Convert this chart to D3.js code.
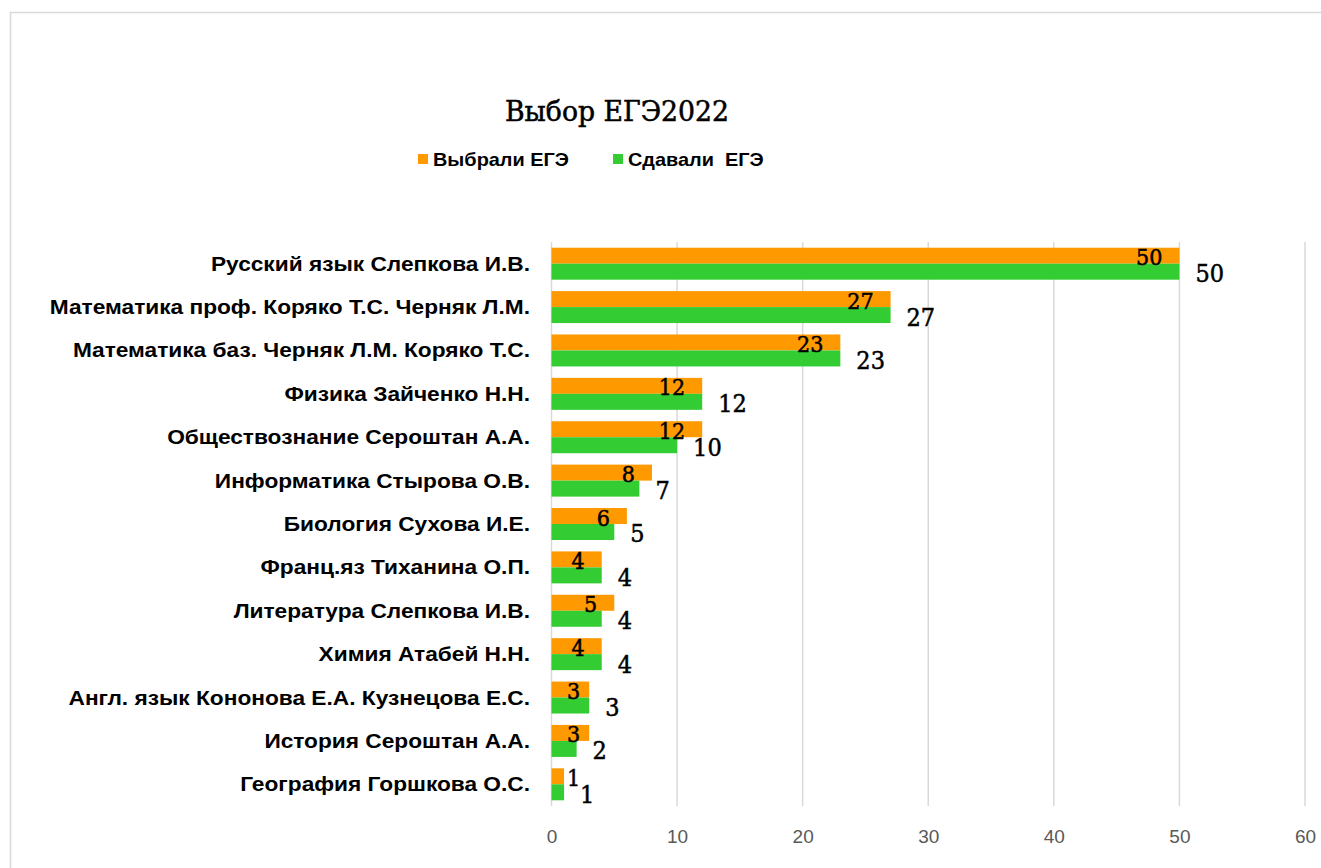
<!DOCTYPE html>
<html>
<head>
<meta charset="utf-8">
<script src="https://cdn.jsdelivr.net/npm/d3@7"></script>
<style>
  html, body { margin: 0; padding: 0; background: #fff; }
  svg { display: block; }
  .serif { font-family: "DejaVu Serif Condensed", "DejaVu Serif", serif; font-stretch: condensed; }
  .sans { font-family: "Liberation Sans", Arial, sans-serif; }
</style>
</head>
<body>
<svg id="chart" width="1321" height="868"></svg>
<script>
const title = "Выбор ЕГЭ2022";
const seriesNames = ["Выбрали ЕГЭ", "Сдавали  ЕГЭ"];
const seriesColors = ["#FF9900", "#33CC33"];
const categories = [
  "Русский язык Слепкова И.В.",
  "Математика проф. Коряко Т.С. Черняк Л.М.",
  "Математика баз. Черняк Л.М. Коряко Т.С.",
  "Физика Зайченко Н.Н.",
  "Обществознание Сероштан А.А.",
  "Информатика Стырова О.В.",
  "Биология Сухова И.Е.",
  "Франц.яз Тиханина О.П.",
  "Литература Слепкова И.В.",
  "Химия Атабей Н.Н.",
  "Англ. язык Кононова Е.А. Кузнецова Е.С.",
  "История Сероштан А.А.",
  "География Горшкова О.С."
];
const chose = [50, 27, 23, 12, 12, 8, 6, 4, 5, 4, 3, 3, 1];
const passed = [50, 27, 23, 12, 10, 7, 5, 4, 4, 4, 3, 2, 1];
const xTicks = [0, 10, 20, 30, 40, 50, 60];

const svg = d3.select("#chart");

// outer border
svg.append("rect").attr("x", 10.5).attr("y", 12.5).attr("width", 1400).attr("height", 1000)
  .attr("fill", "#fff").attr("stroke", "#d9d9d9").attr("stroke-width", 1.5);

const plot = { left: 551.5, right: 1305, top: 242, bottom: 806 };

const x = d3.scaleLinear().domain([0, 60]).range([plot.left, plot.right]);
const y = d3.scaleBand().domain(categories).range([plot.top, plot.bottom])
  .paddingInner(0.263).paddingOuter(0.1315);
const bw = y.bandwidth();

// gridlines
svg.append("g").selectAll("line").data(xTicks).join("line")
  .attr("x1", d => x(d)).attr("x2", d => x(d))
  .attr("y1", plot.top).attr("y2", plot.bottom)
  .attr("stroke", "#d9d9d9").attr("stroke-width", 1.5);

// x axis labels
const xAxis = d3.axisBottom(x).tickValues(xTicks).tickSize(0).tickPadding(0);
const gx = svg.append("g").attr("transform", `translate(0,${plot.bottom + 23})`).call(xAxis);
gx.select(".domain").remove();
gx.selectAll("text").attr("font-size", 19).attr("fill", "#595959")
  .attr("font-family", "Liberation Sans, Arial, sans-serif");

// category labels
svg.append("g").selectAll("text").data(categories).join("text")
  .attr("class", "sans")
  .attr("transform", d => `translate(530,${y(d) + bw / 2 + 7}) scale(1.135,1)`)
  .attr("text-anchor", "end").attr("font-size", 20).attr("font-weight", "bold").attr("fill", "#000")
  .text(d => d);

// bars
const rows = categories.map((c, i) => ({ c, a: chose[i], b: passed[i] }));
svg.append("g").selectAll("rect").data(rows).join("rect")
  .attr("x", x(0)).attr("y", d => y(d.c))
  .attr("width", d => x(d.a) - x(0)).attr("height", bw / 2)
  .attr("fill", seriesColors[0]);
svg.append("g").selectAll("rect").data(rows).join("rect")
  .attr("x", x(0)).attr("y", d => y(d.c) + bw / 2)
  .attr("width", d => x(d.b) - x(0)).attr("height", bw / 2)
  .attr("fill", seriesColors[1]);

// orange value labels (inside end, clamped)
const la = svg.append("g").selectAll("text").data(rows).join("text")
  .attr("class", "serif").attr("font-size", 23).attr("fill", "#000")
  .attr("stroke", "#000").attr("stroke-width", 0.5)
  .attr("y", d => y(d.c) + bw / 4 + 9.5)
  .text(d => d.a);
la.each(function (d) {
  const w = this.getComputedTextLength();
  let left = x(d.a) - 17 - w;
  if (left < 567) left = 567;
  d3.select(this).attr("x", left);
});

// green value labels (outside end)
svg.append("g").selectAll("text").data(rows).join("text")
  .attr("class", "serif").attr("font-size", 25).attr("fill", "#000")
  .attr("stroke", "#000").attr("stroke-width", 0.5)
  .attr("x", d => x(d.b) + 16)
  .attr("y", d => y(d.c) + bw * 3 / 4 + 10.5)
  .text(d => d.b);

// title
svg.append("text").attr("class", "serif")
  .attr("transform", "translate(617,121) scale(1.06,1)")
  .attr("text-anchor", "middle").attr("font-size", 28).attr("fill", "#000")
  .attr("stroke", "#000").attr("stroke-width", 0.5)
  .text(title);

// legend
const legX = [418, 613];
const lg = svg.append("g").selectAll("g").data(seriesNames).join("g")
  .attr("transform", (d, i) => `translate(${legX[i]},0)`);
lg.append("rect").attr("x", 0).attr("y", 154).attr("width", 10).attr("height", 10)
  .attr("fill", (d, i) => seriesColors[i]);
lg.append("text").attr("class", "sans")
  .attr("transform", "translate(15,166) scale(1.07,1)")
  .attr("font-size", 18.6).attr("font-weight", "bold").attr("fill", "#000")
  .style("white-space", "pre").attr("xml:space", "preserve")
  .text(d => d);
</script>
</body>
</html>
